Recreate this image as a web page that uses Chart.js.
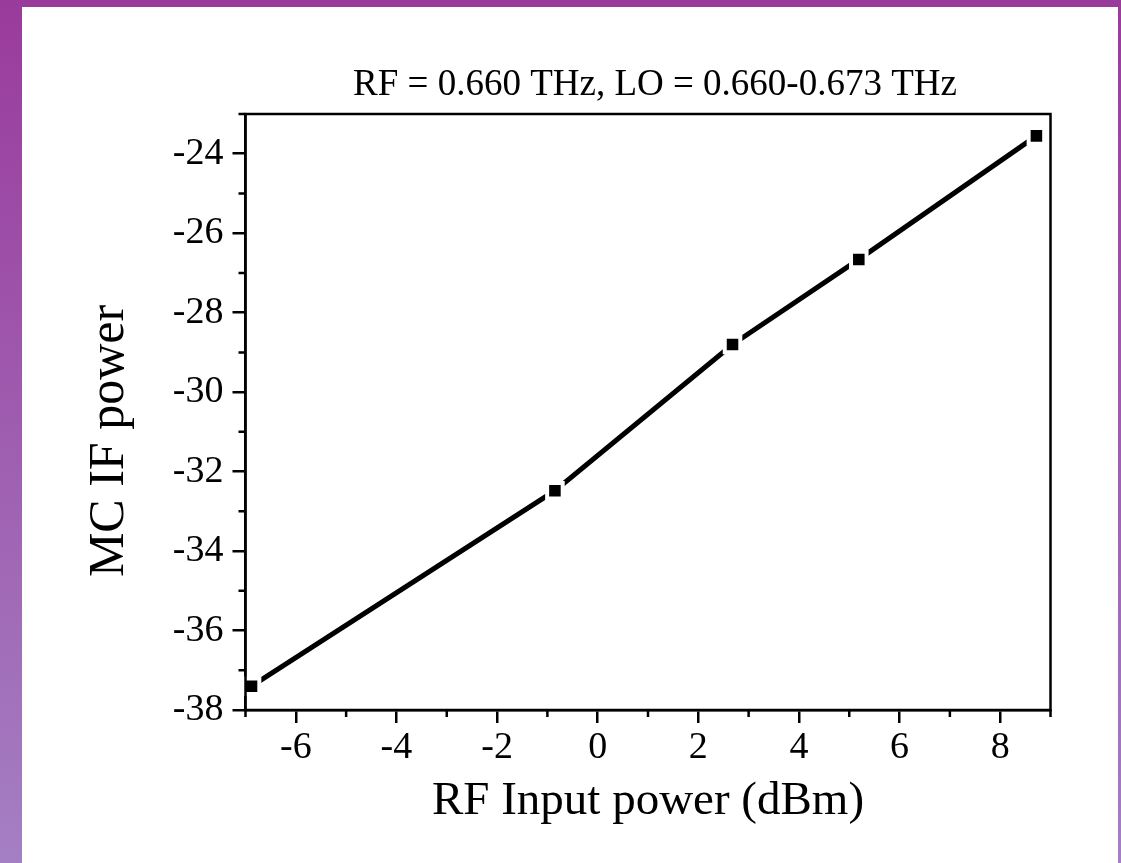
<!DOCTYPE html>
<html>
<head>
<meta charset="utf-8">
<script src="https://cdn.jsdelivr.net/npm/chart.js@4.4.0/dist/chart.umd.min.js"></script>
<style>
  html, body { margin: 0; padding: 0; }
  body {
    width: 1121px; height: 863px; overflow: hidden; position: relative;
    background: linear-gradient(to bottom, #9a3b9c, #a47fc3);
  }
  #panel { position: absolute; left: 22px; top: 7px; width: 1096px; height: 856px; background: #fff; }
</style>
</head>
<body>
<div id="panel"><canvas id="myChart" width="1096" height="856"></canvas></div>
<script>
// data
const rfInput = [-6.88, -0.85, 2.68, 5.19, 8.72];   // dBm
const ifPower = [-37.40, -32.48, -28.80, -26.66, -23.55];
const xTicks = [-6, -4, -2, 0, 2, 4, 6, 8];
const yTicks = [-38, -36, -34, -32, -30, -28, -26, -24];
const xMinorTicks = [-7, -5, -3, -1, 1, 3, 5, 7, 9];
const yMinorTicks = [-37, -35, -33, -31, -29, -27, -25, -23];
const titleText = "RF = 0.660 THz, LO = 0.660-0.673 THz";
const xTitle = "RF Input power (dBm)";
const yTitle = "MC IF power";

const serif = '"Liberation Serif", "Times New Roman", serif';

// frame, minor ticks and titles drawn on top
const frame = {
  id: 'frame',
  afterDatasetsDraw(chart) {
    const { ctx, chartArea: a, scales: { x, y } } = chart;
    ctx.save();
    ctx.strokeStyle = '#000';
    ctx.lineWidth = 2.5;
    ctx.strokeRect(a.left, a.top, a.right - a.left, a.bottom - a.top);
    ctx.beginPath();
    xMinorTicks.forEach(v => {
      const px = x.getPixelForValue(v);
      ctx.moveTo(px, a.bottom);
      ctx.lineTo(px, a.bottom + 7);
    });
    yMinorTicks.forEach(v => {
      const py = y.getPixelForValue(v);
      ctx.moveTo(a.left, py);
      ctx.lineTo(a.left - 7, py);
    });
    ctx.stroke();

    ctx.fillStyle = '#000';
    ctx.font = '37px ' + serif;
    ctx.textAlign = 'center';
    ctx.textBaseline = 'alphabetic';
    ctx.fillText(titleText, (a.left + a.right) / 2 + 7, a.top - 19);

    ctx.translate(101, 434);
    ctx.rotate(-Math.PI / 2);
    ctx.font = '50px ' + serif;
    ctx.fillText(yTitle, 0, 0);
    ctx.restore();
  }
};

const ctx = document.getElementById("myChart");

new Chart(ctx, {
  type: "scatter",
  data: {
    datasets: [
      {
        label: "MC IF power",
        data: rfInput.map((v, i) => ({ x: v, y: ifPower[i] })),
        showLine: true,
        borderColor: "#000",
        borderWidth: 5,
        tension: 0,
        pointStyle: "rect",
        pointRadius: 11,
        pointHoverRadius: 11,
        pointBackgroundColor: "#000",
        pointBorderColor: "#fff",
        pointBorderWidth: 4,
        clip: false
      }
    ]
  },
  plugins: [frame],
  options: {
    responsive: false,
    animation: false,
    layout: { padding: { top: 107, right: 67.5, left: 0, bottom: 0 } },
    plugins: {
      legend: { display: false },
      title: { display: false },
      tooltip: { enabled: false }
    },
    scales: {
      x: {
        type: "linear",
        min: -7,
        max: 9,
        afterBuildTicks(scale) { scale.ticks = xTicks.map(v => ({ value: v })); },
        border: { color: "#000", width: 2.5 },
        grid: { drawOnChartArea: false, drawTicks: true, tickLength: 13, color: "#000", lineWidth: 2.5 },
        ticks: {
          padding: 2,
          color: "#000",
          font: { family: serif, size: 38 }
        },
        title: {
          display: true,
          text: xTitle,
          color: "#000",
          font: { family: serif, size: 47 },
          padding: { top: 0, bottom: 33 }
        },
        afterFit(scale) { scale.height = 153; }
      },
      y: {
        type: "linear",
        min: -38,
        max: -23,
        afterBuildTicks(scale) { scale.ticks = yTicks.map(v => ({ value: v })); },
        border: { color: "#000", width: 2.5 },
        grid: { drawOnChartArea: false, drawTicks: true, tickLength: 13, color: "#000", lineWidth: 2.5 },
        ticks: {
          padding: 9,
          color: "#000",
          font: { family: serif, size: 38 }
        },
        afterFit(scale) { scale.width = 223.5; }
      }
    }
  }
});
</script>
</body>
</html>
